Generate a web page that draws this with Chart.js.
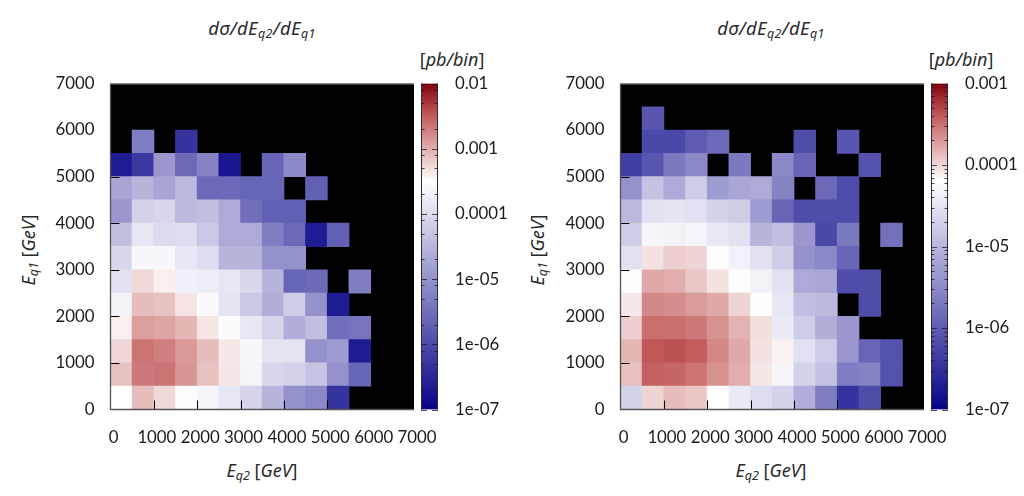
<!DOCTYPE html>
<html><head><meta charset="utf-8">
<script src="https://cdn.jsdelivr.net/npm/chart.js@4"></script>
<style>
html,body{margin:0;padding:0;background:#fff;width:1024px;height:496px;overflow:hidden}
canvas{position:absolute;top:0}
.t{position:absolute;font-family:"Noto Sans",sans-serif;font-style:italic;color:#2a2a2a;white-space:nowrap;transform:translate(-50%,-50%);font-size:18px;line-height:20px}
.t sub{font-size:12.5px;vertical-align:-3px;line-height:0}
.up{font-style:normal}
</style></head><body>
<div class="t" style="left:262px;top:28px;font-size:18.5px;letter-spacing:.4px">dσ/dE<sub>q2</sub>/dE<sub>q1</sub></div>
<div class="t" style="left:771px;top:28px;font-size:18.5px;letter-spacing:.4px">dσ/dE<sub>q2</sub>/dE<sub>q1</sub></div>
<div class="t" style="left:452px;top:59px"><span class="up">[</span>pb/bin<span class="up">]</span></div>
<div class="t" style="left:961px;top:59px"><span class="up">[</span>pb/bin<span class="up">]</span></div>
<div class="t" style="left:262px;top:470px">E<sub>q2</sub> <span class="up">[</span>GeV<span class="up">]</span></div>
<div class="t" style="left:771px;top:470px">E<sub>q2</sub> <span class="up">[</span>GeV<span class="up">]</span></div>
<div class="t" style="left:28px;top:250px;transform:translate(-50%,-50%) rotate(-90deg)">E<sub>q1</sub> <span class="up">[</span>GeV<span class="up">]</span></div>
<div class="t" style="left:537px;top:250px;transform:translate(-50%,-50%) rotate(-90deg)">E<sub>q1</sub> <span class="up">[</span>GeV<span class="up">]</span></div>
<canvas id="h1" width="470" height="496" style="left:0"></canvas>
<canvas id="c1" width="100" height="496" style="left:421px"></canvas>
<canvas id="h2" width="470" height="496" style="left:509.5px"></canvas>
<canvas id="c2" width="100" height="496" style="left:931px"></canvas>
<script>
const n = null;
const binWidth = 500;
const axisMax = 7000;
// log10(pb/bin) per Eq1 row, each row listing the Eq2 bins 0..6500 (left panel)
const leftRow5500 = [n,-5.28,n,-6.31,n,n,n,n,n,n,n,n,n,n];
const leftRow5000 = [-6.66,-6.25,-4.94,-5.56,-5.22,-6.73,n,-5.63,-5.15,n,n,n,n,n];
const leftRow4500 = [-4.74,-4.53,-4.74,-4.46,-5.56,-5.56,-5.63,-5.63,n,-5.70,n,n,n,n];
const leftRow4000 = [-4.94,-4.12,-4.05,-4.46,-4.39,-4.67,-5.49,-5.70,-5.70,n,n,n,n,n];
const leftRow3500 = [-4.39,-3.84,-3.98,-3.95,-4.25,-4.67,-4.67,-5.28,-5.56,-6.66,-5.70,n,n,n];
const leftRow3000 = [-4.05,-3.60,-3.60,-3.82,-3.95,-4.53,-4.53,-5.01,-5.01,n,n,n,n,n];
const leftRow2500 = [-3.91,-3.26,-3.40,-3.71,-3.73,-3.84,-4.05,-4.53,-5.63,-5.56,n,-5.28,n,n];
const leftRow2000 = [-3.68,-3.09,-3.12,-3.34,-3.57,-3.87,-4.25,-4.60,-4.19,-5.01,-6.66,n,n,n];
const leftRow1500 = [-3.40,-2.91,-2.94,-3.06,-3.34,-3.54,-3.82,-4.09,-4.60,-4.39,-5.49,-5.42,n,n];
const leftRow1000 = [-3.25,-2.65,-2.71,-2.88,-3.09,-3.36,-3.60,-3.87,-3.87,-5.01,-4.87,-6.66,n,n];
const leftRow500  = [-3.12,-2.68,-2.65,-2.85,-3.12,-3.35,-3.64,-4.05,-4.12,-4.32,-5.01,-5.63,n,n];
const leftRow0    = [-3.50,-3.09,-3.26,-3.53,-3.64,-3.84,-4.09,-4.53,-5.01,-5.15,-6.31,n,n,n];
// right panel
const rightRow6000 = [n,-6.07,n,n,n,n,n,n,n,n,n,n,n,n];
const rightRow5500 = [n,-6.23,-6.23,-6.01,-5.85,n,n,n,-6.18,n,-6.07,n,n,n];
const rightRow5000 = [-6.34,-6.07,-5.68,-5.52,n,-5.68,n,-5.52,-5.90,n,n,-6.12,n,n];
const rightRow4500 = [-5.41,-4.86,-5.13,-4.75,-5.30,-5.19,-5.13,-5.57,n,-5.85,-6.18,n,n,n];
const rightRow4000 = [-4.97,-4.53,-4.50,-4.53,-4.69,-4.75,-5.30,-5.90,-6.18,-6.18,-6.18,n,n,n];
const rightRow3500 = [-4.75,-4.31,-4.34,-4.31,-4.45,-4.53,-5.02,-4.91,-5.35,-6.23,-5.68,n,-5.79,n];
const rightRow3000 = [-4.53,-4.06,-3.96,-3.99,-4.22,-4.34,-4.53,-4.75,-5.41,-5.52,-5.90,n,n,n];
const rightRow2500 = [-4.22,-3.78,-3.80,-3.92,-4.06,-4.22,-4.36,-4.53,-5.13,-5.19,-6.18,-6.18,n,n];
const rightRow2000 = [-4.09,-3.61,-3.64,-3.71,-3.78,-3.99,-4.19,-4.47,-4.91,-4.97,n,-6.18,n,n];
const rightRow1500 = [-3.96,-3.49,-3.49,-3.54,-3.66,-3.82,-4.04,-4.42,-4.75,-5.08,-5.35,n,n,n];
const rightRow1000 = [-3.85,-3.38,-3.35,-3.40,-3.61,-3.78,-4.06,-4.13,-4.53,-4.75,-5.35,-5.90,-6.12,n];
const rightRow500  = [-3.89,-3.42,-3.45,-3.52,-3.66,-3.80,-4.08,-4.31,-4.69,-4.86,-5.63,-5.57,-6.12,n];
const rightRow0    = [-4.69,-3.99,-3.87,-3.92,-4.20,-4.42,-4.58,-4.69,-5.08,-5.63,-6.45,-6.18,n,n];

const leftRows = [leftRow0,leftRow500,leftRow1000,leftRow1500,leftRow2000,leftRow2500,leftRow3000,leftRow3500,leftRow4000,leftRow4500,leftRow5000,leftRow5500];
const rightRows = [rightRow0,rightRow500,rightRow1000,rightRow1500,rightRow2000,rightRow2500,rightRow3000,rightRow3500,rightRow4000,rightRow4500,rightRow5000,rightRow5500,rightRow6000];

const leftLabels = ["1e-07","1e-06","1e-05","0.0001","0.001","0.01"];
const rightLabels = ["1e-07","1e-06","1e-05","0.0001","0.001"];
const leftMinors = [2,5,8];
const rightMinors = [2,3,4,5,6,7,8,9];

const paletteStops = [0,0.7,0.9,1];
const paletteColors = [[6,2,135],[255,255,255],[195,92,92],[130,2,12]];
function css(c){return `rgb(${c.map(Math.round).join(',')})`;}
function colorAt(t){
  t=Math.max(0,Math.min(1,t));
  for(let i=1;i<paletteStops.length;i++){
    if(t<=paletteStops[i]){
      const f=(t-paletteStops[i-1])/(paletteStops[i]-paletteStops[i-1]);
      return css(paletteColors[i-1].map((a,k)=>a+(paletteColors[i][k]-a)*f));
    }
  }
}
const FONT={family:'Lato, "Open Sans", sans-serif',size:16.8};
const INK='#1c1c1c';

const frame={id:'frame',
  beforeDatasetsDraw(ch){const a=ch.chartArea,c=ch.ctx;c.save();c.fillStyle='#000';c.fillRect(a.left,a.top,a.width,a.height);c.restore();},
  afterDatasetsDraw(ch){
    const a=ch.chartArea,c=ch.ctx;c.save();
    c.strokeStyle='#000';c.lineWidth=1;c.beginPath();
    ch.scales.x.ticks.forEach(t=>{if(t.value>0&&t.value<axisMax){const p=Math.round(ch.scales.x.getPixelForValue(t.value))+.5;c.moveTo(p,a.bottom);c.lineTo(p,a.bottom-9);}});
    ch.scales.y.ticks.forEach(t=>{if(t.value>0&&t.value<axisMax){const p=Math.round(ch.scales.y.getPixelForValue(t.value))+.5;c.moveTo(a.left,p);c.lineTo(a.left+9,p);}});
    c.stroke();
    c.strokeStyle='#8a8a8a';c.beginPath();c.moveTo(a.left,a.top+.5);c.lineTo(a.right,a.top+.5);c.stroke();
    c.strokeStyle='#555';c.lineWidth=1.3;c.beginPath();c.moveTo(a.left,a.top);c.lineTo(a.left,a.bottom);c.lineTo(a.right,a.bottom);c.stroke();
    c.restore();
  }};

function heat(id,rows,decades){
  const datasets=rows.map((row,r)=>{
    const pts=[],cols=[];
    row.forEach((v,i)=>{ if(v!==null){
      pts.push({x:i*binWidth+binWidth/2,y:[r*binWidth,(r+1)*binWidth]});
      cols.push(colorAt((v+7)/decades));
    }});
    return {data:pts,backgroundColor:cols,borderWidth:0,barPercentage:1,categoryPercentage:1,grouped:false,inflateAmount:0.4};
  });
  new Chart(document.getElementById(id),{type:'bar',data:{datasets},plugins:[frame],options:{
    responsive:false,animation:false,events:[],
    layout:{padding:{top:83.5,right:56,left:0,bottom:0}},
    plugins:{legend:{display:false},tooltip:{enabled:false},title:{display:false}},
    scales:{
      x:{type:'linear',min:0,max:axisMax,offset:false,
        afterFit(s){s.height=86.5;},
        ticks:{stepSize:1000,autoSkip:false,maxRotation:0,padding:10,labelOffset:3,color:INK,font:FONT,callback:v=>String(v)},
        grid:{display:false},border:{display:false}},
      y:{type:'linear',min:0,max:axisMax,
        afterFit(s){s.width=110.5;},
        ticks:{stepSize:1000,autoSkip:false,padding:8,color:INK,font:FONT,callback:v=>String(v)},
        grid:{display:false},border:{display:false}}
    }}});
}

const barTicks={id:'barTicks',afterDatasetsDraw(ch){
  const a=ch.chartArea,c=ch.ctx,s=ch.scales.y;c.save();
  c.strokeStyle='#2e2e38';c.lineWidth=1;
  c.beginPath();c.moveTo(a.left+.5,a.top);c.lineTo(a.left+.5,a.bottom);c.moveTo(a.right-.5,a.top);c.lineTo(a.right-.5,a.bottom);c.stroke();
  c.strokeStyle='rgba(30,20,30,0.75)';
  c.beginPath();
  s.ticks.forEach(t=>{const p=Math.round(s.getPixelForValue(t.value))+.5;const len=t.major?6:3.5;
    c.moveTo(a.left,p);c.lineTo(a.left+len,p);c.moveTo(a.right-len,p);c.lineTo(a.right,p);});
  c.stroke();c.restore();
}};

function colorbar(id,labels,minors){
  const lo=1e-7,hi=Math.pow(10,-7+labels.length-1);
  new Chart(document.getElementById(id),{type:'bar',
    data:{labels:[''],datasets:[{data:[[lo,hi]],borderWidth:0,barPercentage:1,categoryPercentage:1,
      backgroundColor(ctx){
        const a=ctx.chart.chartArea;if(!a)return '#888';
        const g=ctx.chart.ctx.createLinearGradient(0,a.bottom,0,a.top);
        paletteStops.forEach((p,i)=>g.addColorStop(p,css(paletteColors[i])));
        return g;
      }}]},
    plugins:[barTicks],
    options:{responsive:false,animation:false,events:[],
      layout:{padding:{top:83.5,bottom:86.5,left:0,right:0}},
      plugins:{legend:{display:false},tooltip:{enabled:false}},
      scales:{
        x:{display:false},
        y:{type:'logarithmic',position:'right',min:lo,max:hi,
          afterFit(s){s.width=83;},
          afterBuildTicks(s){
            const out=[];
            labels.forEach((l,d)=>{
              const base=Math.pow(10,d-7);
              out.push({value:base,major:true,label:l});
              if(d<labels.length-1) minors.forEach(m=>out.push({value:base*m,major:false}));
            });
            s.ticks=out;
          },
          ticks:{autoSkip:false,padding:9,color:INK,font:FONT,maxRotation:0,
            callback(v,i,ts){return ts[i]&&ts[i].major?ts[i].label:'';}},
          grid:{display:false},border:{display:false}}
      }}});
}

heat('h1',leftRows,5);
colorbar('c1',leftLabels,leftMinors);
heat('h2',rightRows,4);
colorbar('c2',rightLabels,rightMinors);
</script>
</body></html>
